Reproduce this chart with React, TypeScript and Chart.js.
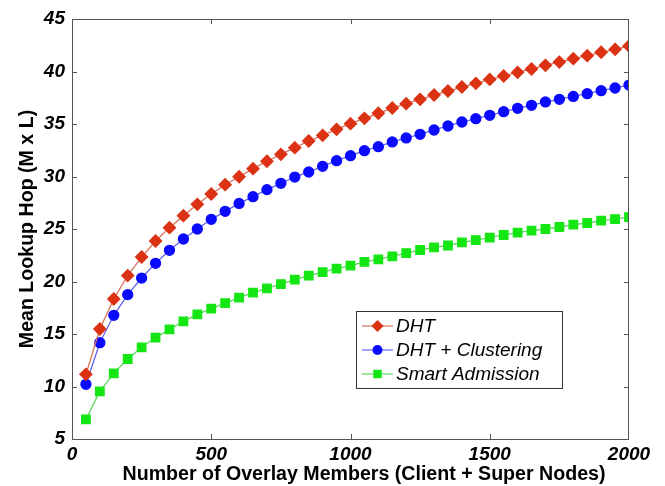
import React, { useEffect, useRef } from "react";
import { Chart, registerables } from "chart.js";

Chart.register(...registerables);

const MEMBERS = [50, 100, 150, 200, 250, 300, 350, 400, 450, 500, 550, 600, 650, 700, 750, 800, 850, 900, 950, 1000, 1050, 1100, 1150, 1200, 1250, 1300, 1350, 1400, 1450, 1500, 1550, 1600, 1650, 1700, 1750, 1800, 1850, 1900, 1950, 2000];

const DHT = [11.16, 15.48, 18.33, 20.56, 22.33, 23.86, 25.13, 26.27, 27.35, 28.33, 29.22, 29.98, 30.75, 31.45, 32.11, 32.75, 33.38, 33.92, 34.49, 35.03, 35.54, 36.02, 36.52, 36.94, 37.35, 37.76, 38.14, 38.52, 38.87, 39.25, 39.57, 39.92, 40.24, 40.59, 40.9, 41.22, 41.51, 41.83, 42.11, 42.43];

const DHT_CLUSTERING = [10.21, 14.17, 16.78, 18.75, 20.33, 21.73, 22.97, 24.05, 25.0, 25.92, 26.68, 27.44, 28.08, 28.75, 29.35, 29.95, 30.43, 30.97, 31.51, 31.98, 32.46, 32.84, 33.29, 33.67, 34.02, 34.43, 34.81, 35.19, 35.51, 35.83, 36.17, 36.49, 36.78, 37.1, 37.35, 37.63, 37.89, 38.17, 38.43, 38.71];

const SMART_ADMISSION = [6.87, 9.54, 11.25, 12.62, 13.73, 14.65, 15.44, 16.21, 16.87, 17.41, 17.95, 18.46, 18.94, 19.34, 19.76, 20.17, 20.56, 20.9, 21.22, 21.51, 21.86, 22.11, 22.4, 22.71, 23.0, 23.25, 23.43, 23.73, 23.95, 24.17, 24.43, 24.65, 24.84, 25.0, 25.19, 25.41, 25.57, 25.79, 25.95, 26.14];

const SERIES_LABELS = ["DHT", "DHT + Clustering", "Smart Admission"];
const X_TITLE = "Number of Overlay Members (Client + Super Nodes)";
const Y_TITLE = "Mean Lookup Hop (M x L)";

const FONT = "'Liberation Sans', Arial, sans-serif";

function drawMarker(ctx: CanvasRenderingContext2D, style: string, x: number, y: number, r: number) {
  ctx.beginPath();
  if (style === "circle") {
    ctx.arc(x, y, r, 0, Math.PI * 2);
  } else if (style === "rectRot") {
    ctx.moveTo(x, y - r);
    ctx.lineTo(x + r, y);
    ctx.lineTo(x, y + r);
    ctx.lineTo(x - r, y);
    ctx.closePath();
  } else {
    const s = r * Math.SQRT1_2;
    ctx.rect(x - s, y - s, 2 * s, 2 * s);
  }
  ctx.fill();
}

const framePlugin = {
  id: "frameTicks",
  afterDatasetsDraw(chart: any) {
    const { ctx, chartArea } = chart;
    const { left, right, top, bottom } = chartArea;
    ctx.save();
    ctx.strokeStyle = "#555555";
    ctx.lineWidth = 1;
    ctx.strokeRect(left + 0.5, top + 0.5, right - left - 1, bottom - top);
    const len = 5;
    const xs = chart.scales.x;
    xs.ticks.forEach((t: any) => {
      if (t.value <= xs.min || t.value >= xs.max) return;
      const px = Math.round(xs.getPixelForValue(t.value)) + 0.5;
      ctx.beginPath();
      ctx.moveTo(px, bottom);
      ctx.lineTo(px, bottom - len);
      ctx.moveTo(px, top);
      ctx.lineTo(px, top + len);
      ctx.stroke();
    });
    const ys = chart.scales.y;
    ys.ticks.forEach((t: any) => {
      if (t.value <= ys.min || t.value >= ys.max) return;
      const py = Math.round(ys.getPixelForValue(t.value)) + 0.5;
      ctx.beginPath();
      ctx.moveTo(left, py);
      ctx.lineTo(left + len, py);
      ctx.moveTo(right, py);
      ctx.lineTo(right - len, py);
      ctx.stroke();
    });
    // x-axis title (offset to the right like the original figure)
    ctx.fillStyle = "#000000";
    ctx.font = `bold 19.6px ${FONT}`;
    ctx.textAlign = "center";
    ctx.textBaseline = "middle";
    ctx.fillText(X_TITLE, left + 292, bottom + 36);
    ctx.restore();
  },
};

const legendPlugin = {
  id: "boxLegend",
  afterDraw(chart: any) {
    const { ctx, chartArea } = chart;
    const bx = chartArea.left + 284;
    const by = chartArea.top + 292;
    const bw = 206;
    const bh = 77;
    ctx.save();
    ctx.fillStyle = "#ffffff";
    ctx.fillRect(bx, by, bw, bh);
    ctx.strokeStyle = "#333333";
    ctx.lineWidth = 1;
    ctx.strokeRect(bx + 0.5, by + 0.5, bw, bh);
    chart.data.datasets.forEach((ds: any, i: number) => {
      const cy = by + 15 + i * 24;
      ctx.strokeStyle = ds.borderColor;
      ctx.lineWidth = 1.2;
      ctx.beginPath();
      ctx.moveTo(bx + 6, cy);
      ctx.lineTo(bx + 37, cy);
      ctx.stroke();
      ctx.fillStyle = ds.pointBackgroundColor;
      drawMarker(ctx, ds.pointStyle, bx + 21.5, cy, ds.pointRadius);
      ctx.fillStyle = "#000000";
      ctx.font = `italic 19px ${FONT}`;
      ctx.textBaseline = "middle";
      ctx.textAlign = "left";
      ctx.fillText(ds.label, bx + 40, cy + 1);
    });
    ctx.restore();
  },
};

export default function App() {
  const ref = useRef<HTMLCanvasElement | null>(null);
  useEffect(() => {
    if (!ref.current) return;
    const mk = (vals: number[]) => vals.map((v, i) => ({ x: MEMBERS[i], y: v }));
    const tickFont = { family: FONT, size: 19, style: "italic" as const, weight: "bold" as const };
    const chart = new Chart(ref.current, {
      type: "line",
      data: {
        datasets: [
          {
            label: SERIES_LABELS[0],
            data: mk(DHT),
            borderColor: "#d9735c",
            backgroundColor: "#dc3214",
            pointBackgroundColor: "#dc3214",
            pointBorderColor: "#dc3214",
            pointStyle: "rectRot",
            pointRadius: 6,
            borderWidth: 1.3,
            tension: 0,
          },
          {
            label: SERIES_LABELS[1],
            data: mk(DHT_CLUSTERING),
            borderColor: "#6464ee",
            backgroundColor: "#0a0aff",
            pointBackgroundColor: "#0a0aff",
            pointBorderColor: "#0a0aff",
            pointStyle: "circle",
            pointRadius: 5,
            borderWidth: 1.3,
            tension: 0,
          },
          {
            label: SERIES_LABELS[2],
            data: mk(SMART_ADMISSION),
            borderColor: "#5cd65c",
            backgroundColor: "#14e614",
            pointBackgroundColor: "#14e614",
            pointBorderColor: "#14e614",
            pointStyle: "rect",
            pointRadius: 6,
            borderWidth: 1.3,
            tension: 0,
          },
        ],
      },
      options: {
        responsive: false,
        animation: false,
        layout: { padding: { top: 19, right: 36, left: 0, bottom: 0 } },
        plugins: { legend: { display: false }, tooltip: { enabled: false } },
        scales: {
          x: {
            type: "linear",
            min: 0,
            max: 2000,
            ticks: {
              stepSize: 500,
              color: "#000",
              font: tickFont,
              padding: 4,
              maxRotation: 0,
              callback: (v: any) => String(v),
            },
            grid: { display: false, drawTicks: false },
            border: { display: false },
            title: { display: false },
            afterFit: (s: any) => {
              s.height = 47;
            },
          },
          y: {
            type: "linear",
            min: 5,
            max: 45,
            ticks: { stepSize: 5, color: "#000", font: tickFont, padding: 7, callback: (v: any) => String(v) },
            grid: { display: false, drawTicks: false },
            border: { display: false },
            title: {
              display: true,
              text: Y_TITLE,
              color: "#000",
              font: { family: FONT, size: 19.6, weight: "bold", lineHeight: 1.15 },
              padding: { top: 16, bottom: 0 },
            },
            afterFit: (s: any) => {
              s.width = 72;
            },
          },
        },
      },
      plugins: [framePlugin, legendPlugin],
    });
    return () => chart.destroy();
  }, []);
  return (
    <div style={{ position: "absolute", left: 0, top: 0, width: 665, height: 486, background: "#fff" }}>
      <canvas ref={ref} width={665} height={486} />
    </div>
  );
}
